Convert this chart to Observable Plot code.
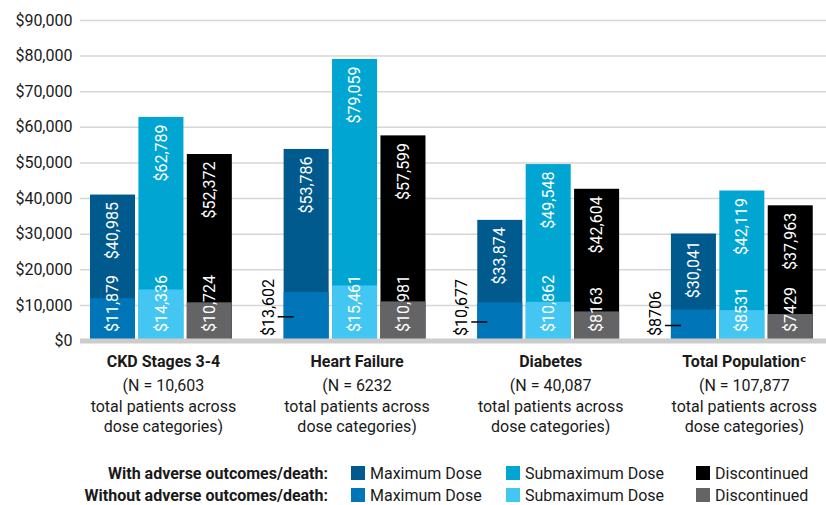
<!DOCTYPE html>
<html>
<head>
<meta charset="utf-8">
<script src="https://cdn.jsdelivr.net/npm/d3@7"></script>
<script src="https://cdn.jsdelivr.net/npm/@observablehq/plot@0.6"></script>
<style>
  html, body { margin: 0; padding: 0; background: #fff; }
  body { width: 826px; height: 505px; overflow: hidden; font-family: Roboto, "DejaVu Sans", sans-serif; color: #1a1a1a; }
  #legend { padding-top: 27px; font-size: 16px; }
  .lrow { display: flex; align-items: center; height: 22px; }
  .lhead { width: 328px; text-align: right; font-weight: bold; margin-right: 23px; }
  .litem { display: flex; align-items: center; }
  .sw { width: 14px; height: 14px; margin-right: 5px; flex: none; }
</style>
</head>
<body>
<div id="chart"></div>
<div id="legend"></div>
<script>
// ---- data ----
const groups = ["CKD Stages 3-4", "Heart Failure", "Diabetes", "Total Population"];
const groupTitles = ["CKD Stages 3-4", "Heart Failure", "Diabetes", "Total Population\u1D9C"];
const groupNotes = [
  "(N = 10,603\ntotal patients across\ndose categories)",
  "(N = 6232\ntotal patients across\ndose categories)",
  "(N = 40,087\ntotal patients across\ndose categories)",
  "(N = 107,877\ntotal patients across\ndose categories)"
];
const doses = ["Maximum Dose", "Submaximum Dose", "Discontinued"];
// With adverse outcomes/death (per group: max, submax, discontinued)
const withAdverse = [
  [40985, 62789, 52372],
  [53786, 79059, 57599],
  [33874, 49548, 42604],
  [30041, 42119, 37963]
];
// Without adverse outcomes/death
const withoutAdverse = [
  [11879, 14336, 10724],
  [13602, 15461, 10981],
  [10677, 10862, 8163],
  [8706, 8531, 7429]
];
// whether the maximum-dose "without" label sits outside the bar
const maxLabelOutside = [false, true, true, true];
const yTicks = [0, 10000, 20000, 30000, 40000, 50000, 60000, 70000, 80000, 90000];
const seriesWith = ["With: Maximum Dose", "With: Submaximum Dose", "With: Discontinued"];
const seriesWithout = ["Without: Maximum Dose", "Without: Submaximum Dose", "Without: Discontinued"];
const colorsWith = ["#005a8d", "#00a6d1", "#000000"];
const colorsWithout = ["#0076b9", "#44c6f2", "#646466"];

// ---- build ----
const key = (gi, di) => `${gi}-${di}`;
const xDomain = [];
groups.forEach((g, gi) => {
  doses.forEach((d, di) => xDomain.push(key(gi, di)));
  if (gi < groups.length - 1) xDomain.push(`${gi}-gap`);
});
const rows = [];
groups.forEach((g, gi) => doses.forEach((d, di) => rows.push({
  key: key(gi, di), group: g, gi, di, dose: d,
  hi: withAdverse[gi][di], lo: withoutAdverse[gi][di],
  sHi: seriesWith[di], sLo: seriesWithout[di],
  outside: di === 0 && maxLabelOutside[gi]
})));
const cats = groups.map((g, gi) => ({key: key(gi, 1), title: groupTitles[gi], note: groupNotes[gi]}));
const money = v => "$" + (v >= 10000 ? d3.format(",")(v) : String(v));

const chart = Plot.plot({
  width: 826,
  height: 435,
  marginTop: 20,
  marginBottom: 94.5,
  marginLeft: 80,
  marginRight: 0,
  style: {fontFamily: "Roboto, 'DejaVu Sans', sans-serif", fontSize: "16px", color: "#1a1a1a", background: "#fff"},
  x: {domain: xDomain, paddingInner: 0.07, paddingOuter: 0.24, align: 0.43, round: false, axis: null},
  y: {domain: [0, 90000], axis: null},
  color: {domain: [...seriesWith, ...seriesWithout], range: [...colorsWith, ...colorsWithout]},
  marks: [
    Plot.ruleY(yTicks, {stroke: "#d6d6d6", strokeWidth: 1.5}),
    Plot.axisY({ticks: yTicks, tickFormat: v => "$" + d3.format(",")(v), tickSize: 0, tickPadding: 8, fontSize: 16, fill: "#1a1a1a"}),
    Plot.barY(rows, {x: "key", y: "hi", fill: "sHi"}),
    Plot.barY(rows, {x: "key", y: "lo", fill: "sLo"}),
    Plot.ruleY([0], {stroke: "#cccccc", strokeWidth: 5}),
    Plot.text(rows, {x: "key", y: "hi", text: d => money(d.hi), rotate: -90, textAnchor: "end", dy: 7, fill: "white", fontSize: 16}),
    Plot.text(rows.filter(d => !d.outside), {x: "key", y: 0, text: d => money(d.lo), rotate: -90, textAnchor: "start", dy: -9, fill: "white", fontSize: 16}),
    Plot.text(rows.filter(d => d.outside), {x: "key", y: 0, text: d => money(d.lo), rotate: -90, textAnchor: "start", dy: -5, dx: -38, fill: "black", fontSize: 16}),
    Plot.tickY(rows.filter(d => d.outside), {x: "key", y: d => d.lo / 2, stroke: "black", strokeWidth: 1.5, dx: -6, insetRight: 29}),
    Plot.text(cats, {x: "key", y: 0, text: "title", lineAnchor: "top", dy: 14.5, dx: 2, fontWeight: "bold", fontSize: 16, fill: "#1a1a1a"}),
    Plot.text(cats, {x: "key", y: 0, text: "note", lineAnchor: "top", dy: 35.5, dx: 2, lineHeight: 1.29, fontSize: 16, fill: "#1a1a1a"})
  ]
});
document.getElementById("chart").appendChild(chart);

// ---- legend (HTML, below the SVG) ----
const legend = document.getElementById("legend");
const itemWidths = [155, 190, 130];
[["With adverse outcomes/death:", colorsWith], ["Without adverse outcomes/death:", colorsWithout]].forEach(([label, cols]) => {
  const row = document.createElement("div");
  row.className = "lrow";
  const h = document.createElement("div");
  h.className = "lhead";
  h.textContent = label;
  row.appendChild(h);
  doses.forEach((d, i) => {
    const it = document.createElement("div");
    it.className = "litem";
    it.style.width = itemWidths[i] + "px";
    const sw = document.createElement("div");
    sw.className = "sw";
    sw.style.background = cols[i];
    const t = document.createElement("span");
    t.textContent = d;
    it.appendChild(sw);
    it.appendChild(t);
    row.appendChild(it);
  });
  legend.appendChild(row);
});
</script>
</body>
</html>
